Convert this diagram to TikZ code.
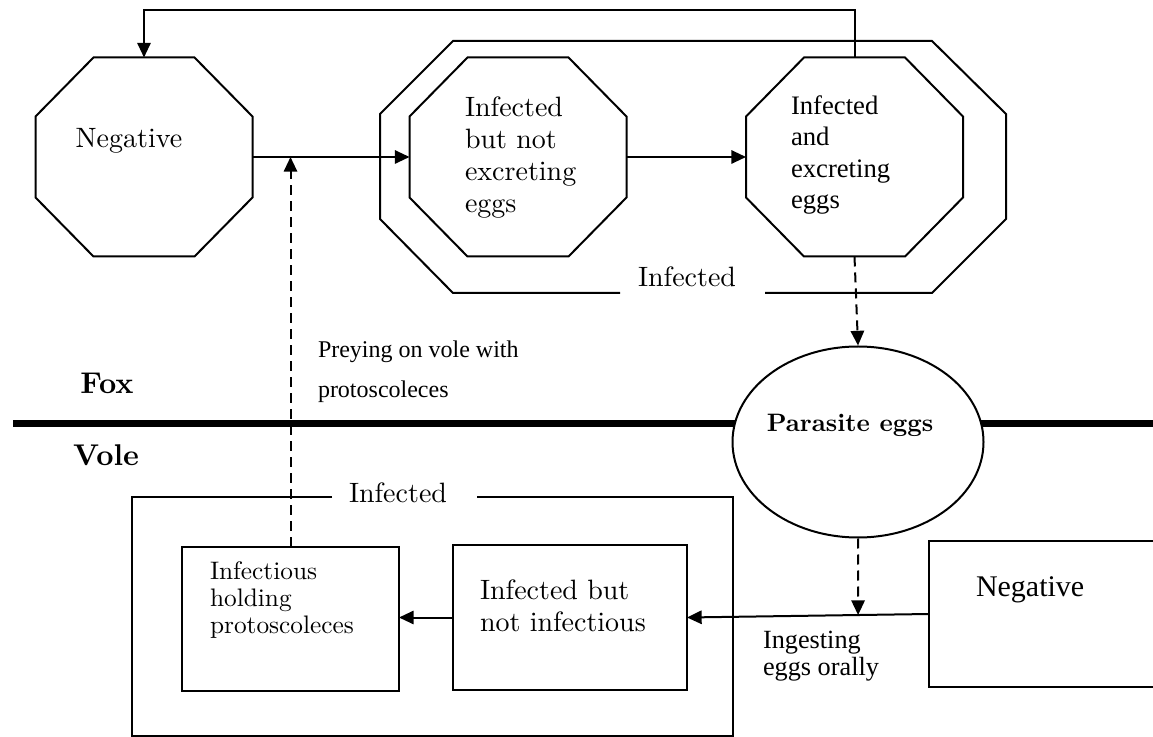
\documentclass[tikz,border=0pt]{standalone}
\usepackage{fontspec}
\newfontfamily\tmsf{Liberation Serif}
\usetikzlibrary{arrows.meta,shapes.geometric,calc}
\newcommand\octpath[3]{%
  \draw[ln] ($(#1.north west)+(#2,0)$) -- ($(#1.north east)+(-#2,0)$)
    -- ($(#1.north east)+(0,#3)$) -- ($(#1.south east)+(0,-#3)$)
    -- ($(#1.south east)+(-#2,0)$) -- ($(#1.south west)+(#2,0)$)
    -- ($(#1.south west)+(0,-#3)$) -- ($(#1.north west)+(0,#3)$) -- cycle;}
\begin{document}
\begin{tikzpicture}[x=0.75pt,y=-0.75pt,
  ln/.style={line width=1.5pt},
  arr/.style={ln,-{Triangle[length=11pt,width=10pt]}},
  darr/.style={arr,dash pattern=on 7.5pt off 4.5pt},
  octbox/.style={minimum width=162.75pt,minimum height=149.25pt,inner sep=0,outer sep=0},
  txt/.style={inner sep=0,outer sep=0,align=left,anchor=west},
  lm/.style={font=\fontsize{10}{11.43}\selectfont,scale=2.1,transform shape},
  bold/.style={font=\bfseries\fontsize{10}{11}\selectfont,scale=2.25,transform shape},
]
\useasboundingbox (0,0) rectangle (1153,737);

% Fox/Vole divider
\draw[line width=5.25pt] (13,424) -- (1153,424);

% Fox states
\node[octbox] (neg) at (144,157) {};
\octpath{neg}{58}{59}
\node[octbox] (oct1) at (518,157) {};
\octpath{oct1}{58}{59}
\node[octbox] (oct2) at (854.5,157) {};
\octpath{oct2}{58}{59}
\node[minimum width=469.5pt,minimum height=189pt,inner sep=0,outer sep=0] (foxinf) at (693,167) {};
\draw[ln] ($(foxinf.south)+(-73,0)$) -- ($(foxinf.south west)+(73,0)$)
  -- ($(foxinf.south west)+(0,-74)$) -- ($(foxinf.north west)+(0,73)$)
  -- ($(foxinf.north west)+(73,0)$) -- ($(foxinf.north east)+(-74,0)$)
  -- ($(foxinf.north east)+(0,73)$) -- ($(foxinf.south east)+(0,-74)$)
  -- ($(foxinf.south east)+(-74,0)$) -- ($(foxinf.south)+(72,0)$);

\node[txt,lm,anchor=center] (negT) at (129,141) {Negative};
\node[txt,lm] (oct1T) at (465,158) {Infected\\but not\\excreting\\eggs};
\node[txt,font=\tmsf\fontsize{20}{23.6}\selectfont] (oct2T) at (791,155) {Infected\\and\\excreting\\eggs};
\node[txt,lm,anchor=center] (foxinfT) at (687,277) {Infected};

% Parasite eggs
\node[draw,ellipse,ln,fill=white,minimum width=188.25pt,minimum height=143.25pt,inner sep=0] (eggs) at (858,442) {};
\node[txt,bold,anchor=center,scale=0.84] (eggsT) at (850,425) {Parasite eggs};

\node[txt,bold,anchor=center] (foxT) at (107,383) {Fox};
\node[txt,bold,anchor=center] (voleT) at (106,455) {Vole};

% Vole states
\node[minimum width=450.75pt,minimum height=179.25pt,inner sep=0,outer sep=0] (voleinf) at (432.5,616.5) {};
\draw[ln] (voleinf.north -| 332,0) -- (voleinf.north west) -- (voleinf.south west)
  -- (voleinf.south east) -- (voleinf.north east) -- (voleinf.north -| 477,0);
\node[txt,lm,anchor=center] (voleinfT) at (398,493) {Infected};

\node[draw,ln,minimum width=162.75pt,minimum height=108pt,inner sep=0,outer sep=0] (inf1) at (290.5,619) {};
\node[txt,font=\fontsize{10}{10.84}\selectfont,scale=1.9,transform shape] (inf1T) at (210,600) {Infectious\\holding\\protoscoleces};
\node[draw,ln,minimum width=175.5pt,minimum height=108.75pt,inner sep=0,outer sep=0] (inf2) at (570,617.5) {};
\node[txt,lm] (inf2T) at (480,606) {Infected but\\not infectious};
\node[minimum width=168pt,minimum height=109.5pt,inner sep=0,outer sep=0] (vneg) at (1041,614) {};
\draw[ln] (vneg.north east) -- (vneg.north west) -- (vneg.south west) -- (vneg.south east);
\node[txt,font=\tmsf\fontsize{22.5}{26}\selectfont] (vnegT) at (976,590) {Negative};

% labels
\node[txt,font=\tmsf\fontsize{18}{30}\selectfont] (preyT) at (318,372) {Preying on vole with\\protoscoleces};
\node[txt,font=\tmsf\fontsize{19.7}{20.25}\selectfont] (ingT) at (763,656) {Ingesting\\eggs orally};

% connectors
\draw[arr] (neg.east) -- (oct1.west);
\draw[arr] (oct1.east) -- (oct2.west);
\draw[arr] (oct2.north) -- (oct2.north |- 0,10) -- (neg.north |- 0,10) -- (neg.north);
\draw[darr] (oct2.south) -- (eggs.north);
\coordinate (ing) at ($(vneg.west)!0.293!(inf2.east)$);
\draw[arr] (vneg.west) -- (inf2.east);
\draw[darr] (eggs.south) -- (ing);
\draw[arr] (inf2.west) -- (inf2.west -| inf1.east);
\coordinate (prey) at (inf1.north |- neg.east);
\draw[darr] (inf1.north) -- (prey);
\end{tikzpicture}
\end{document}
